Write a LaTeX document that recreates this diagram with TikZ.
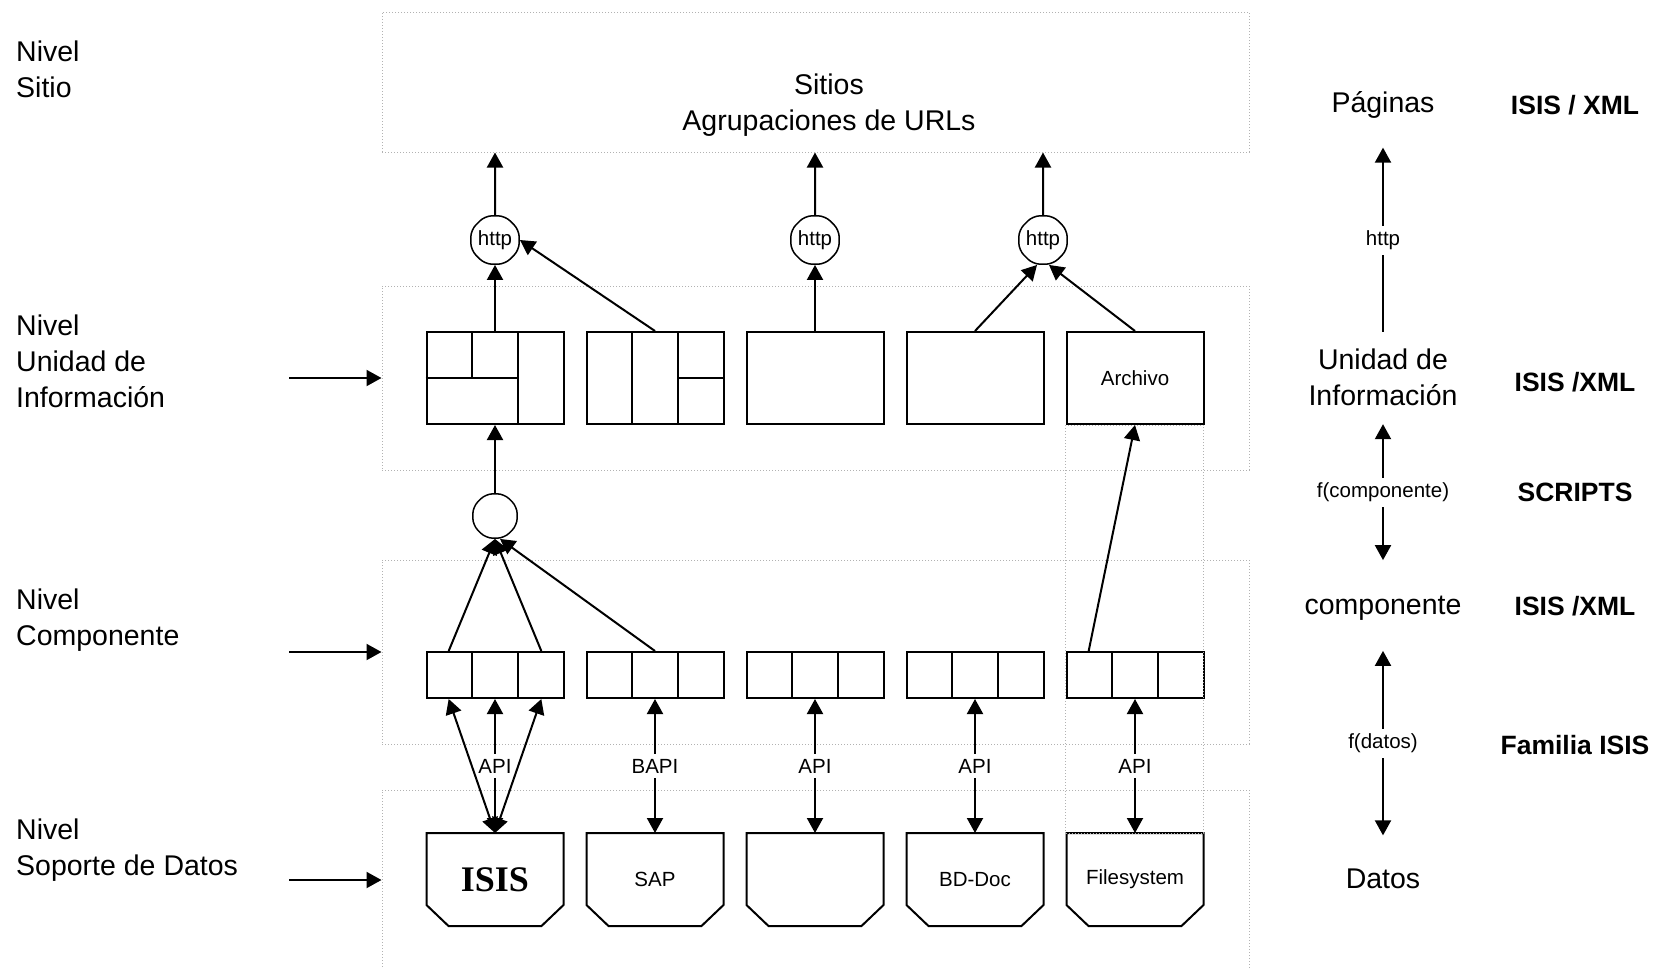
\documentclass[tikz,border=0pt]{standalone}
\usepackage{fontspec}
\setmainfont{Liberation Sans}
\newfontfamily\isisfont{Liberation Serif}
\usetikzlibrary{arrows.meta,positioning,calc,shapes.geometric}
\newcommand\lvfont{\fontsize{28.5}{36}\selectfont}
\newcommand\smfont{\fontsize{20.5}{24}\selectfont}
\newcommand\tagfont{\fontsize{26.5}{32}\selectfont\bfseries}

\begin{document}
\begin{tikzpicture}[x = 1pt, y = -1pt,
  lvl/.style = {anchor=west, align=left, inner sep=0pt, font=\lvfont},
  rlabel/.style = {align=center, inner sep=0pt, font=\lvfont},
  tagtxt/.style = {inner sep=0pt, font=\tagfont},
  zone/.style = {draw=black!30, line width=1pt, dash pattern=on 1pt off 2pt, inner sep=0pt},
  ubox/.style = {draw, line width=2pt, minimum width=137pt, minimum height=92pt, inner sep=0pt, font=\smfont},
  cbox/.style = {ubox, minimum height=46pt},
  dbox/.style = {minimum width=137pt, minimum height=93pt, inner sep=0pt, outer sep=0pt, font=\smfont},
  conn/.style = {draw, line width=1.5pt, regular polygon, regular polygon sides=8, minimum size=48pt, inner sep=0pt, rounded corners=7pt, font=\smfont},
  arr/.style = {-{Triangle[length=15pt,width=16pt]}, line width=2pt},
  darr/.style = {{Triangle[length=15pt,width=16pt]}-{Triangle[length=15pt,width=16pt]}, line width=2pt},
  lbl/.style = {fill=white, inner xsep=1pt, inner ysep=5pt, font=\smfont}]
\useasboundingbox (0,0) rectangle (1663,969);

% dotted level zones
\node[zone, minimum width=867pt, minimum height=140pt] (sitios) at (815.5,82) {};
\node[zone, minimum width=867pt, minimum height=184pt] (zU) at (815.5,378) {};
\node[zone, minimum width=867pt, minimum height=184pt] (zC) at (815.5,652) {};
\node[zone, minimum width=867pt, minimum height=220pt] (zD) at (815.5,900) {};
\node[rlabel] (sitiostxt) at (829,105) {Sitios\\Agrupaciones de URLs};

% levels on the left
\node[lvl] (lvS) at (16,69) {Nivel\\Sitio};
\node[lvl] (lvU) at (16,361) {Nivel\\Unidad de\\Información};
\node[lvl] (lvC) at (16,620) {Nivel\\Componente};
\node[lvl] (lvD) at (16,850) {Nivel\\Soporte de Datos};
\coordinate (aU) at (289,378);
\coordinate (aC) at (289,652);
\coordinate (aD) at (289,880);
\draw[arr] (aU) -- (aU -| zU.west);
\draw[arr] (aC) -- (aC -| zC.west);
\draw[arr] (aD) -- (aD -| zD.west);

% information units
\node[ubox] (u1) at (495,378) {};
\node[ubox] (u2) at (655,378) {};
\node[ubox] (u3) at (815,378) {};
\node[ubox] (u4) at (975,378) {};
\node[ubox] (u5) at (1135,378) {Archivo};
\draw[line width=2pt] ($(u1.north west)!1/3!(u1.north east)$) -- ($(u1.west)!1/3!(u1.east)$)
  (u1.west) -- ($(u1.west)!2/3!(u1.east)$)
  ($(u1.north west)!2/3!(u1.north east)$) -- ($(u1.south west)!2/3!(u1.south east)$);
\draw[line width=2pt] ($(u2.north west)!1/3!(u2.north east)$) -- ($(u2.south west)!1/3!(u2.south east)$)
  ($(u2.north west)!2/3!(u2.north east)$) -- ($(u2.south west)!2/3!(u2.south east)$)
  ($(u2.west)!2/3!(u2.east)$) -- (u2.east);

% components and data stores
\foreach \i/\x/\t in {1/495/{\isisfont\bfseries\fontsize{36}{40}\selectfont ISIS},2/655/SAP,3/815/{},4/975/BD-Doc,5/1135/Filesystem}{
  \node[cbox] (c\i) at (\x,675) {};
  \draw[line width=2pt] ($(c\i.north west)!1/3!(c\i.north east)$) -- ($(c\i.south west)!1/3!(c\i.south east)$)
    ($(c\i.north west)!2/3!(c\i.north east)$) -- ($(c\i.south west)!2/3!(c\i.south east)$);
  \coordinate (c\i t1) at ($(c\i.north west)!1/6!(c\i.north east)$);
  \coordinate (c\i t2) at (c\i.north);
  \coordinate (c\i t3) at ($(c\i.north west)!5/6!(c\i.north east)$);
  \coordinate (c\i b1) at ($(c\i.south west)!1/6!(c\i.south east)$);
  \coordinate (c\i b2) at (c\i.south);
  \coordinate (c\i b3) at ($(c\i.south west)!5/6!(c\i.south east)$);
  \node[dbox] (d\i) at (\x,879.5) {\t};
  \draw[line width=2pt] (d\i.north west) -- ([yshift=21pt]d\i.south west) -- ([xshift=22pt]d\i.south west)
    -- ([xshift=-22pt]d\i.south east) -- ([yshift=21pt]d\i.south east) -- (d\i.north east) -- cycle;
}
\draw[zone] (u5.south west) rectangle (d5.north east);

% connectors
\node[conn] (h1) at (495,240) {http};
\node[conn] (h2) at (815,240) {http};
\node[conn] (h3) at (1043,240) {http};
\node[conn] (e) at (495,516) {};

% arrows up to the sites
\draw[arr] (h1) -- (h1 |- sitios.south);
\draw[arr] (h2) -- (h2 |- sitios.south);
\draw[arr] (h3) -- (h3 |- sitios.south);
\draw[arr] (u1) -- (h1);
\draw[arr] (u2.north) -- (h1.east);
\draw[arr] (u3) -- (h2);
\draw[arr] (u4.north) -- ([xshift=-6pt]h3.south);
\draw[arr] (u5.north) -- ([xshift=6pt]h3.south);
\draw[arr] (e) -- (u1);
\draw[arr] (c1t1) -- (e.south);
\draw[arr] (c1t3) -- (e.south);
\draw[arr] (c2t2) -- ([xshift=5pt]e.south);
\draw[arr] (c5t1) -- (u5.south);

% data access
\draw[darr] (d1.north) -- (c1b1);
\draw[darr] (d1.north) -- (c1b3);
\draw[darr] (d1.north) -- node[lbl] {API} (c1b2);
\draw[darr] (d2.north) -- node[lbl] {BAPI} (c2b2);
\draw[darr] (d3.north) -- node[lbl] {API} (c3b2);
\draw[darr] (d4.north) -- node[lbl] {API} (c4b2);
\draw[darr] (d5.north) -- node[lbl] {API} (c5b2);

% right column
\node[rlabel] (pag) at (1383,105) {Páginas};
\node[rlabel] (ruU) at (1383,377) {Unidad de\\Información};
\node[rlabel] (ruC) at (1383,608) {componente};
\node[rlabel] (ruD) at (1383,879) {Datos};
\draw[arr, shorten <=16.5pt, shorten >=29pt] (ruU.north) -- node[lbl, pos=0.47] {http} (pag.south);
\draw[darr, shorten <=18.5pt, shorten >=35.5pt] (ruU.south) -- node[lbl, pos=0.455] {f(componente)} (ruC.north);
\draw[darr, shorten <=30.5pt, shorten >=33.5pt] (ruC.south) -- node[lbl, pos=0.494] {f(datos)} (ruD.north);
\node[tagtxt] (t1) at (1575,105) {ISIS / XML};
\node[tagtxt] (t2) at (1575,382) {ISIS /XML};
\node[tagtxt] (t3) at (1575,492) {SCRIPTS};
\node[tagtxt] (t4) at (1575,606) {ISIS /XML};
\node[tagtxt] (t5) at (1575,745) {Familia ISIS};
\end{tikzpicture}
\end{document}
